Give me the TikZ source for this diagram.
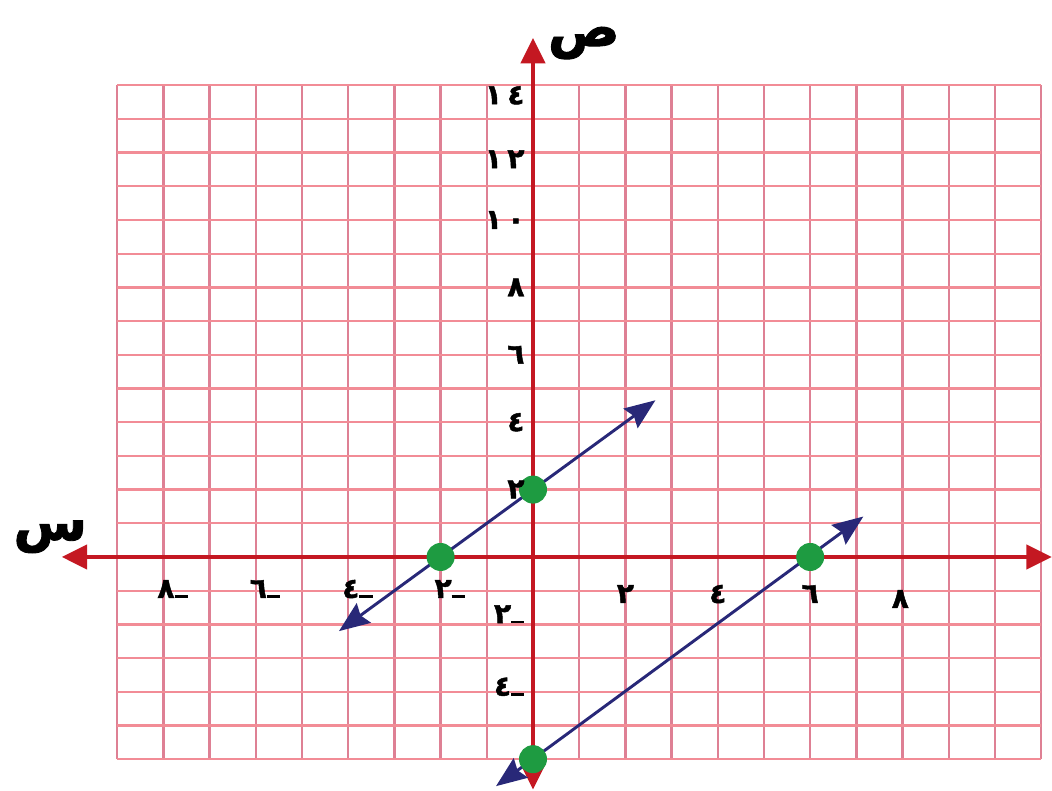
\documentclass[tikz,border=0pt]{standalone}
\usepackage{fontspec}
\usepackage{xcolor}
\usetikzlibrary{arrows.meta}
\TeXXeTstate=1
\newfontfamily\arabicfont[Script=Arabic,FakeBold=1.6]{DejaVu Sans}
\definecolor{gridpink}{RGB}{242,140,150}
\definecolor{gridmauve}{RGB}{222,128,148}
\definecolor{axisred}{RGB}{196,24,34}
\definecolor{linenavy}{RGB}{40,40,120}
\definecolor{dotgreen}{RGB}{30,155,65}
\newcommand{\neglbl}[1]{#1\rule{10pt}{1.8pt}}

\begin{document}
\begin{tikzpicture}[x=34.65pt, y=25.275pt,
  gridv/.style={draw=gridmauve, line width=1.7pt},
  gridh/.style={draw=gridpink, line width=1.7pt},
  axis/.style={draw=axisred, line width=3.2pt,
    {Triangle[length=19pt,width=18pt]}-{Triangle[length=19pt,width=18pt]}},
  lin/.style={draw=linenavy, line width=2.2pt,
    {Stealth[length=23pt,width=18pt,inset=3pt]}-{Stealth[length=23pt,width=18pt,inset=3pt]}},
  dot/.style={circle, fill=dotgreen, minimum size=21pt, inner sep=0pt},
  lbl/.style={font=\arabicfont\bfseries\fontsize{21}{21}\selectfont, inner sep=1pt},
  axlbl/.style={font=\arabicfont\bfseries\fontsize{40}{40}\selectfont, inner sep=0pt}
]
\useasboundingbox (-11.537,-6.944) rectangle (11.234,16.528);
% ── Grid ──
\foreach \x in {-9,...,11} \draw[gridv] (\x,-6) -- (\x,14);
\foreach \y in {-6,...,14} \draw[gridh] (-9,\y) -- (11,\y);
% ── Axes ──
\coordinate (xl) at (-10.2,0);
\coordinate (xr) at (11.23,0);
\coordinate (yb) at (0,-6.9);
\coordinate (yt) at (0,15.4);
\draw[axis] (xl) -- (xr);
\draw[axis] (yb) -- (yt);
% ── Lines ──
\coordinate (a1) at (-4.2,-2.2);
\coordinate (a2) at (2.65,4.65);
\coordinate (b1) at (-0.8,-6.8);
\coordinate (b2) at (7.15,1.2);
\draw[lin] (a1) -- (a2);
\draw[lin] (b1) -- (b2);
% ── Points ──
\node[dot] (P1) at (-2,0) {};
\node[dot] (P2) at (0,2) {};
\node[dot] (P3) at (6,0) {};
\node[dot] (P4) at (0,-6) {};
% ── Tick labels ──
\foreach \k/\t in {2/٢,4/٤,6/٦}
  \node[lbl] (xp\k) at (\k,-1.1) {\t};
\node[lbl] (xp8) at (7.95,-1.25) {٨};
\foreach \k/\t in {2/٢,4/٤,6/٦,8/٨}
  \node[lbl] (xn\k) at (-\k+0.2,-0.95) {\neglbl{\t}};
\foreach \k/\t in {2/٢,4/٤,6/٦,8/٨}
  \node[lbl, anchor=east] (yp\k) at (-0.15,\k) {\t};
\node[lbl, anchor=east] (yp10) at (-0.15,10) {١\kern4pt ٠};
\node[lbl, anchor=east] (yp12) at (-0.15,11.8) {١\kern4pt ٢};
\node[lbl, anchor=east] (yp14) at (-0.15,13.7) {١\kern4pt ٤};
\node[lbl, anchor=east] (yn2) at (-0.15,-1.7) {\neglbl{٢}};
\node[lbl, anchor=east] (yn4) at (-0.15,-3.85) {\neglbl{٤}};
% ── Axis names ──
\node[axlbl] (ylbl) at (1.1,15.25) {\beginR ص\endR};
\node[axlbl] (xlbl) at (-10.45,0.6) {\beginR س\endR};
\end{tikzpicture}
\end{document}
